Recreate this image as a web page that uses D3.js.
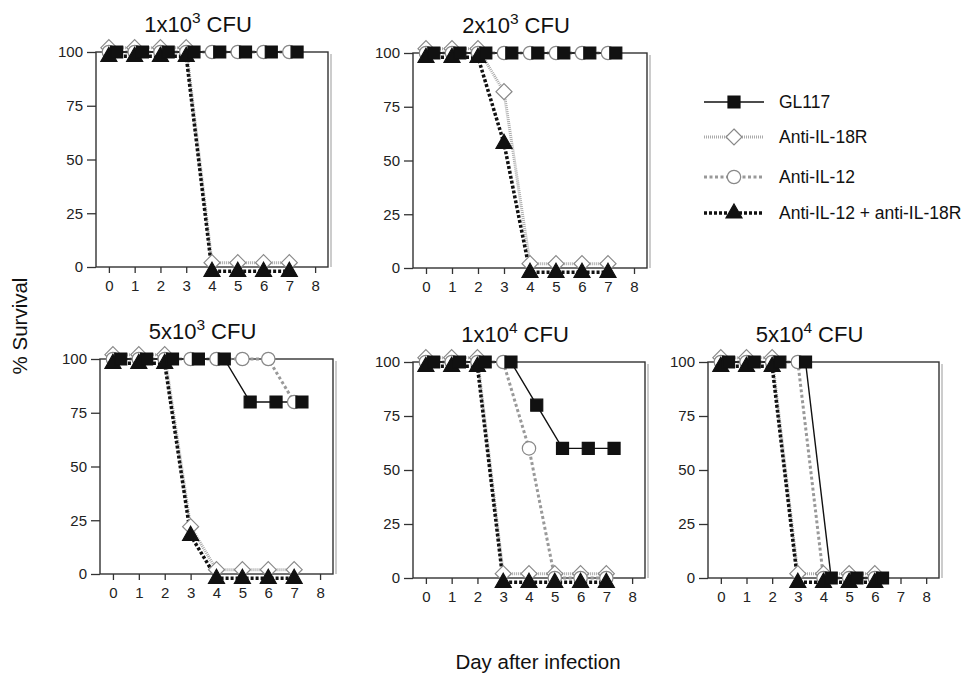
<!DOCTYPE html>
<html>
<head>
<meta charset="utf-8">
<script src="https://cdn.jsdelivr.net/npm/d3@7"></script>
<style>
  body { margin: 0; background: #fff; }
  svg { display: block; font-family: "Liberation Sans", Arial, Helvetica, sans-serif; }
</style>
</head>
<body>
<svg id="chart" width="967" height="674"></svg>
<script>
// ---- data ----
const seriesNames = ["GL117", "Anti-IL-18R", "Anti-IL-12", "Anti-IL-12 + anti-IL-18R"];
const titleMantissa = ["1x10", "2x10", "5x10", "1x10", "5x10"];
const titleExponent = ["3", "3", "3", "4", "4"];
const xTicks = [0, 1, 2, 3, 4, 5, 6, 7, 8];
const yTicks = [0, 25, 50, 75, 100];
const daysLong = [0, 1, 2, 3, 4, 5, 6, 7];
const daysShort = [0, 1, 2, 3, 4, 5, 6];

const gl117 = [
  [100, 100, 100, 100, 100, 100, 100, 100],
  [100, 100, 100, 100, 100, 100, 100, 100],
  [100, 100, 100, 100, 100, 80, 80, 80],
  [100, 100, 100, 100, 80, 60, 60, 60],
  [100, 100, 100, 100, 0, 0, 0]
];
const antiIL18R = [
  [100, 100, 100, 100, 0, 0, 0, 0],
  [100, 100, 100, 80, 0, 0, 0, 0],
  [100, 100, 100, 20, 0, 0, 0, 0],
  [100, 100, 100, 0, 0, 0, 0, 0],
  [100, 100, 100, 0, 0, 0, 0]
];
const antiIL12 = [
  [100, 100, 100, 100, 100, 100, 100, 100],
  [100, 100, 100, 100, 100, 100, 100, 100],
  [100, 100, 100, 100, 100, 100, 100, 80],
  [100, 100, 100, 100, 60, 0, 0, 0],
  [100, 100, 100, 100, 0, 0, 0]
];
const combo = [
  [100, 100, 100, 100, 0, 0, 0, 0],
  [100, 100, 100, 60, 0, 0, 0, 0],
  [100, 100, 100, 20, 0, 0, 0, 0],
  [100, 100, 100, 0, 0, 0, 0, 0],
  [100, 100, 100, 0, 0, 0, 0]
];
const panelDays = [daysLong, daysLong, daysLong, daysLong, daysShort];

// ---- layout / styles ----
const svg = d3.select("#chart");
const panels = [
  { left: 96,  top: 52,  w: 232, h: 215 },
  { left: 413, top: 53,  w: 234, h: 215 },
  { left: 100, top: 359, w: 233, h: 215 },
  { left: 413, top: 362, w: 232, h: 216 },
  { left: 708, top: 362, w: 231, h: 216 }
];

// per-series look; dx/dy are the small plotting offsets used in the original so marks don't hide each other
const styles = [
  { key: "gl117", values: gl117, stroke: "#111", width: 1.4, dash: null, shape: "square", fill: "#111", mstroke: "#111", dx: 0.3, dy: 0 },
  { key: "il18r", values: antiIL18R, stroke: "#aaa", width: 3, dash: "1,1", shape: "diamond", fill: "#fff", mstroke: "#888", dx: 0, dy: 2 },
  { key: "il12", values: antiIL12, stroke: "#999", width: 3, dash: "3,2.5", shape: "circle", fill: "#fff", mstroke: "#888", dx: 0, dy: 0 },
  { key: "combo", values: combo, stroke: "#111", width: 3.5, dash: "3,2", shape: "triangle", fill: "#111", mstroke: "#111", dx: 0, dy: -2 }
];
const drawOrder = [1, 2, 3, 0];

function markerPath(shape) {
  if (shape === "square") return "M-6,-6H6V6H-6Z";
  if (shape === "diamond") return "M0,-8L8,0L0,8L-8,0Z";
  if (shape === "triangle") return "M0,-9L8,5H-8Z";
  return d3.symbol(d3.symbolCircle, 140)();
}

panels.forEach((p, i) => {
  const x = d3.scaleLinear().domain([-0.5, 8.5]).range([p.left, p.left + p.w]);
  const y = d3.scaleLinear().domain([0, 100]).range([p.top + p.h, p.top]);
  const g = svg.append("g");

  // frame
  g.append("line")
    .attr("x1", p.left + p.w + 3).attr("x2", p.left + p.w + 3)
    .attr("y1", p.top + 2).attr("y2", p.top + p.h)
    .attr("stroke", "#ccc").attr("stroke-width", 2);
  g.append("rect")
    .attr("x", p.left).attr("y", p.top).attr("width", p.w).attr("height", p.h)
    .attr("fill", "none").attr("stroke", "#333").attr("stroke-width", 1.4);

  // axes
  const yAxis = d3.axisLeft(y).tickValues(yTicks).tickSize(9).tickPadding(4);
  const xAxis = d3.axisBottom(x).tickValues(xTicks).tickSize(6).tickPadding(7);
  const ya = g.append("g").attr("transform", `translate(${p.left},0)`).call(yAxis);
  const xa = g.append("g").attr("transform", `translate(0,${p.top + p.h})`).call(xAxis);
  [ya, xa].forEach(a => {
    a.select(".domain").remove();
    a.selectAll("line").attr("stroke", "#333").attr("stroke-width", 1.3);
    a.selectAll("text").attr("font-size", 15).attr("fill", "#222")
      .attr("font-family", "'Liberation Sans', Arial, sans-serif");
  });

  // title
  const t = g.append("text")
    .attr("x", p.left + p.w / 2 - 14)
    .attr("y", p.top - 20)
    .attr("text-anchor", "middle")
    .attr("font-size", 22)
    .attr("fill", "#111");
  t.append("tspan").text(titleMantissa[i]);
  t.append("tspan").attr("font-size", 15.5).attr("dy", -9).text(titleExponent[i]);
  t.append("tspan").attr("dy", 9).text(" CFU");

  // series
  const days = panelDays[i];
  drawOrder.forEach(si => {
    const s = styles[si];
    const pts = days.map((d, k) => ({ day: d, v: s.values[i][k] }));
    const line = d3.line().x(d => x(d.day + s.dx)).y(d => y(d.v + s.dy));
    g.append("path")
      .datum(pts)
      .attr("d", line)
      .attr("fill", "none")
      .attr("stroke", s.stroke)
      .attr("stroke-width", s.width)
      .attr("stroke-dasharray", s.dash);
  });
  drawOrder.forEach(si => {
    const s = styles[si];
    const pts = days.map((d, k) => ({ day: d, v: s.values[i][k] }));
    g.selectAll(".m-" + s.key)
      .data(pts)
      .join("path")
      .attr("class", "m-" + s.key)
      .attr("transform", d => `translate(${x(d.day + s.dx)},${y(d.v + s.dy)})`)
      .attr("d", markerPath(s.shape))
      .attr("fill", s.fill)
      .attr("stroke", s.mstroke)
      .attr("stroke-width", 1.2);
  });
});

// legend
const legend = svg.append("g");
const legendY = [102, 137, 177, 213];
styles.forEach((s, i) => {
  const row = legend.append("g").attr("transform", `translate(0,${legendY[i]})`);
  row.append("line")
    .attr("x1", 704).attr("x2", 764).attr("y1", 0).attr("y2", 0)
    .attr("stroke", s.stroke).attr("stroke-width", s.width)
    .attr("stroke-dasharray", s.dash);
  row.append("path")
    .attr("transform", "translate(734,0)")
    .attr("d", markerPath(s.shape))
    .attr("fill", s.fill).attr("stroke", s.mstroke).attr("stroke-width", 1.2);
  row.append("text")
    .attr("x", 779).attr("y", 6)
    .attr("font-size", 17.5).attr("fill", "#111")
    .text(seriesNames[i]);
});

// axis titles
svg.append("text")
  .attr("transform", "translate(27,326) rotate(-90)")
  .attr("text-anchor", "middle")
  .attr("font-size", 20.5)
  .attr("fill", "#111")
  .text("% Survival");
svg.append("text")
  .attr("x", 538).attr("y", 669)
  .attr("text-anchor", "middle")
  .attr("font-size", 20.5)
  .attr("fill", "#111")
  .text("Day after infection");
</script>
</body>
</html>
